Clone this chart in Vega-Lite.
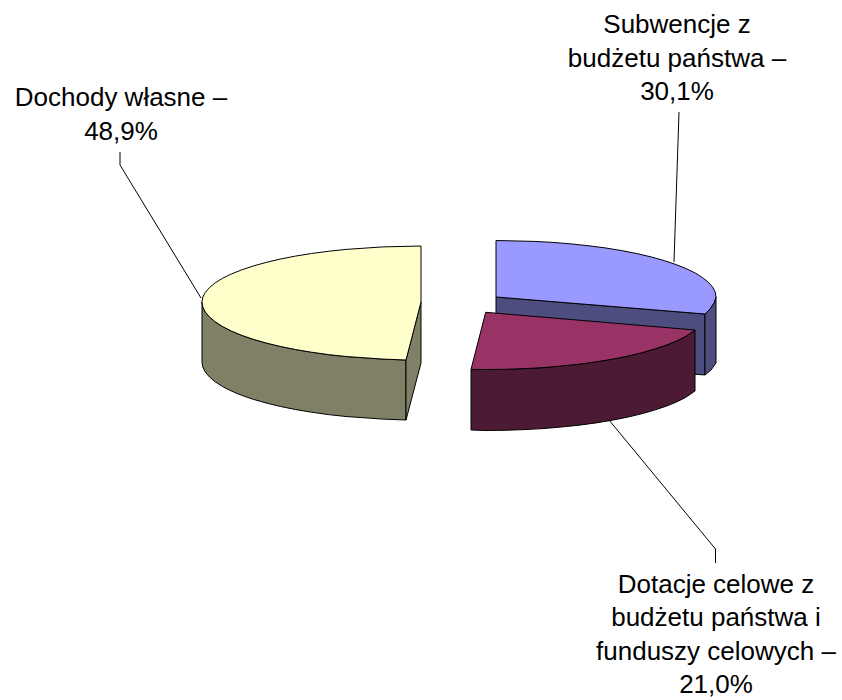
{"$schema":"https://vega.github.io/schema/vega-lite/v6.json","width":842,"height":700,"padding":0,"autosize":{"type":"fit","contains":"padding"},"background":"white","view":{"stroke":null},
"datasets":{"outline":[
{"part":"Dochody wlasne bok","i":0,"x":202,"y":302},{"part":"Dochody wlasne bok","i":1,"x":202.8,"y":307},{"part":"Dochody wlasne bok","i":2,"x":205.3,"y":312.1},{"part":"Dochody wlasne bok","i":3,"x":209.5,"y":317},{"part":"Dochody wlasne bok","i":4,"x":215.2,"y":321.8},{"part":"Dochody wlasne bok","i":5,"x":222.5,"y":326.5},{"part":"Dochody wlasne bok","i":6,"x":231.3,"y":331},{"part":"Dochody wlasne bok","i":7,"x":241.6,"y":335.3},{"part":"Dochody wlasne bok","i":8,"x":253.2,"y":339.3},{"part":"Dochody wlasne bok","i":9,"x":266.2,"y":343},{"part":"Dochody wlasne bok","i":10,"x":280.2,"y":346.4},{"part":"Dochody wlasne bok","i":11,"x":295.4,"y":349.5},{"part":"Dochody wlasne bok","i":12,"x":311.5,"y":352.2},{"part":"Dochody wlasne bok","i":13,"x":328.4,"y":354.6},{"part":"Dochody wlasne bok","i":14,"x":346.1,"y":356.5},{"part":"Dochody wlasne bok","i":15,"x":383,"y":359.1},{"part":"Dochody wlasne bok","i":16,"x":406,"y":360},{"part":"Dochody wlasne bok","i":17,"x":406,"y":420},{"part":"Dochody wlasne bok","i":18,"x":383,"y":419.1},{"part":"Dochody wlasne bok","i":19,"x":346.1,"y":416.5},{"part":"Dochody wlasne bok","i":20,"x":328.4,"y":414.6},{"part":"Dochody wlasne bok","i":21,"x":311.5,"y":412.2},{"part":"Dochody wlasne bok","i":22,"x":295.4,"y":409.5},{"part":"Dochody wlasne bok","i":23,"x":280.2,"y":406.4},{"part":"Dochody wlasne bok","i":24,"x":266.2,"y":403},{"part":"Dochody wlasne bok","i":25,"x":253.2,"y":399.3},{"part":"Dochody wlasne bok","i":26,"x":241.6,"y":395.3},{"part":"Dochody wlasne bok","i":27,"x":231.3,"y":391},{"part":"Dochody wlasne bok","i":28,"x":222.5,"y":386.5},{"part":"Dochody wlasne bok","i":29,"x":215.2,"y":381.8},{"part":"Dochody wlasne bok","i":30,"x":209.5,"y":377},{"part":"Dochody wlasne bok","i":31,"x":205.3,"y":372.1},{"part":"Dochody wlasne bok","i":32,"x":202.8,"y":367},{"part":"Dochody wlasne bok","i":33,"x":202,"y":362},{"part":"Dochody wlasne bok","i":34,"x":202,"y":302},
{"part":"Dochody wlasne ciecie","i":0,"x":421,"y":302},{"part":"Dochody wlasne ciecie","i":1,"x":406,"y":360},{"part":"Dochody wlasne ciecie","i":2,"x":406,"y":420},{"part":"Dochody wlasne ciecie","i":3,"x":421,"y":363},{"part":"Dochody wlasne ciecie","i":4,"x":421,"y":302},
{"part":"Dochody wlasne gora","i":0,"x":421,"y":302},{"part":"Dochody wlasne gora","i":1,"x":421,"y":246},{"part":"Dochody wlasne gora","i":2,"x":383,"y":246.9},{"part":"Dochody wlasne gora","i":3,"x":346.1,"y":249.4},{"part":"Dochody wlasne gora","i":4,"x":328.4,"y":251.3},{"part":"Dochody wlasne gora","i":5,"x":311.5,"y":253.5},{"part":"Dochody wlasne gora","i":6,"x":295.4,"y":256.1},{"part":"Dochody wlasne gora","i":7,"x":280.2,"y":259.1},{"part":"Dochody wlasne gora","i":8,"x":266.2,"y":262.4},{"part":"Dochody wlasne gora","i":9,"x":253.2,"y":266},{"part":"Dochody wlasne gora","i":10,"x":241.6,"y":269.9},{"part":"Dochody wlasne gora","i":11,"x":231.3,"y":274},{"part":"Dochody wlasne gora","i":12,"x":222.5,"y":278.3},{"part":"Dochody wlasne gora","i":13,"x":215.2,"y":282.8},{"part":"Dochody wlasne gora","i":14,"x":209.5,"y":287.5},{"part":"Dochody wlasne gora","i":15,"x":205.3,"y":292.3},{"part":"Dochody wlasne gora","i":16,"x":202.8,"y":297.1},{"part":"Dochody wlasne gora","i":17,"x":202,"y":302},{"part":"Dochody wlasne gora","i":18,"x":202.8,"y":307},{"part":"Dochody wlasne gora","i":19,"x":205.3,"y":312.1},{"part":"Dochody wlasne gora","i":20,"x":209.5,"y":317},{"part":"Dochody wlasne gora","i":21,"x":215.2,"y":321.8},{"part":"Dochody wlasne gora","i":22,"x":222.5,"y":326.5},{"part":"Dochody wlasne gora","i":23,"x":231.3,"y":331},{"part":"Dochody wlasne gora","i":24,"x":241.6,"y":335.3},{"part":"Dochody wlasne gora","i":25,"x":253.2,"y":339.3},{"part":"Dochody wlasne gora","i":26,"x":266.2,"y":343},{"part":"Dochody wlasne gora","i":27,"x":280.2,"y":346.4},{"part":"Dochody wlasne gora","i":28,"x":295.4,"y":349.5},{"part":"Dochody wlasne gora","i":29,"x":311.5,"y":352.2},{"part":"Dochody wlasne gora","i":30,"x":328.4,"y":354.6},{"part":"Dochody wlasne gora","i":31,"x":346.1,"y":356.5},{"part":"Dochody wlasne gora","i":32,"x":383,"y":359.1},{"part":"Dochody wlasne gora","i":33,"x":406,"y":360},{"part":"Dochody wlasne gora","i":34,"x":421,"y":302},
{"part":"Subwencje ciecie","i":0,"x":496,"y":297},{"part":"Subwencje ciecie","i":1,"x":705,"y":314},{"part":"Subwencje ciecie","i":2,"x":705,"y":375},{"part":"Subwencje ciecie","i":3,"x":496,"y":358},{"part":"Subwencje ciecie","i":4,"x":496,"y":297},
{"part":"Subwencje bok","i":0,"x":705,"y":314},{"part":"Subwencje bok","i":1,"x":710,"y":309},{"part":"Subwencje bok","i":2,"x":714,"y":303},{"part":"Subwencje bok","i":3,"x":716,"y":297},{"part":"Subwencje bok","i":4,"x":716,"y":363},{"part":"Subwencje bok","i":5,"x":711,"y":370},{"part":"Subwencje bok","i":6,"x":705,"y":375},{"part":"Subwencje bok","i":7,"x":705,"y":314},
{"part":"Subwencje gora","i":0,"x":496,"y":297},{"part":"Subwencje gora","i":1,"x":496,"y":240.5},{"part":"Subwencje gora","i":2,"x":534.2,"y":241.4},{"part":"Subwencje gora","i":3,"x":553,"y":242.4},{"part":"Subwencje gora","i":4,"x":571.2,"y":243.9},{"part":"Subwencje gora","i":5,"x":589,"y":245.8},{"part":"Subwencje gora","i":6,"x":606,"y":248},{"part":"Subwencje gora","i":7,"x":622.2,"y":250.7},{"part":"Subwencje gora","i":8,"x":637.4,"y":253.7},{"part":"Subwencje gora","i":9,"x":651.6,"y":257},{"part":"Subwencje gora","i":10,"x":664.5,"y":260.7},{"part":"Subwencje gora","i":11,"x":676.2,"y":264.6},{"part":"Subwencje gora","i":12,"x":686.5,"y":268.8},{"part":"Subwencje gora","i":13,"x":695.4,"y":273.1},{"part":"Subwencje gora","i":14,"x":702.7,"y":277.7},{"part":"Subwencje gora","i":15,"x":708.5,"y":282.4},{"part":"Subwencje gora","i":16,"x":712.7,"y":287.2},{"part":"Subwencje gora","i":17,"x":715.2,"y":292},{"part":"Subwencje gora","i":18,"x":716,"y":297},{"part":"Subwencje gora","i":19,"x":714,"y":303},{"part":"Subwencje gora","i":20,"x":710,"y":309},{"part":"Subwencje gora","i":21,"x":705,"y":314},{"part":"Subwencje gora","i":22,"x":496,"y":297},
{"part":"Dotacje bok","i":0,"x":695,"y":330},{"part":"Dotacje bok","i":1,"x":685.4,"y":336.6},{"part":"Dotacje bok","i":2,"x":676.5,"y":341},{"part":"Dotacje bok","i":3,"x":666.2,"y":345.2},{"part":"Dotacje bok","i":4,"x":654.5,"y":349.1},{"part":"Dotacje bok","i":5,"x":641.6,"y":352.8},{"part":"Dotacje bok","i":6,"x":627.4,"y":356.2},{"part":"Dotacje bok","i":7,"x":612.2,"y":359.2},{"part":"Dotacje bok","i":8,"x":596,"y":361.9},{"part":"Dotacje bok","i":9,"x":579,"y":364.2},{"part":"Dotacje bok","i":10,"x":561.2,"y":366},{"part":"Dotacje bok","i":11,"x":543,"y":367.6},{"part":"Dotacje bok","i":12,"x":524.2,"y":368.6},{"part":"Dotacje bok","i":13,"x":505.2,"y":369.3},{"part":"Dotacje bok","i":14,"x":486,"y":369.5},{"part":"Dotacje bok","i":15,"x":471,"y":369.4},{"part":"Dotacje bok","i":16,"x":471,"y":430},{"part":"Dotacje bok","i":17,"x":486,"y":430.5},{"part":"Dotacje bok","i":18,"x":505.2,"y":430.3},{"part":"Dotacje bok","i":19,"x":524.2,"y":429.6},{"part":"Dotacje bok","i":20,"x":543,"y":428.6},{"part":"Dotacje bok","i":21,"x":561.2,"y":427},{"part":"Dotacje bok","i":22,"x":579,"y":425.2},{"part":"Dotacje bok","i":23,"x":596,"y":422.9},{"part":"Dotacje bok","i":24,"x":612.2,"y":420.2},{"part":"Dotacje bok","i":25,"x":627.4,"y":417.2},{"part":"Dotacje bok","i":26,"x":641.6,"y":413.8},{"part":"Dotacje bok","i":27,"x":654.5,"y":410.1},{"part":"Dotacje bok","i":28,"x":666.2,"y":406.2},{"part":"Dotacje bok","i":29,"x":676.5,"y":402},{"part":"Dotacje bok","i":30,"x":685.4,"y":397.6},{"part":"Dotacje bok","i":31,"x":695,"y":391},{"part":"Dotacje bok","i":32,"x":695,"y":330},
{"part":"Dotacje gora","i":0,"x":485.7,"y":312.3},{"part":"Dotacje gora","i":1,"x":695,"y":330},{"part":"Dotacje gora","i":2,"x":685.4,"y":336.6},{"part":"Dotacje gora","i":3,"x":676.5,"y":341},{"part":"Dotacje gora","i":4,"x":666.2,"y":345.2},{"part":"Dotacje gora","i":5,"x":654.5,"y":349.1},{"part":"Dotacje gora","i":6,"x":641.6,"y":352.8},{"part":"Dotacje gora","i":7,"x":627.4,"y":356.2},{"part":"Dotacje gora","i":8,"x":612.2,"y":359.2},{"part":"Dotacje gora","i":9,"x":596,"y":361.9},{"part":"Dotacje gora","i":10,"x":579,"y":364.2},{"part":"Dotacje gora","i":11,"x":561.2,"y":366},{"part":"Dotacje gora","i":12,"x":543,"y":367.6},{"part":"Dotacje gora","i":13,"x":524.2,"y":368.6},{"part":"Dotacje gora","i":14,"x":505.2,"y":369.3},{"part":"Dotacje gora","i":15,"x":486,"y":369.5},{"part":"Dotacje gora","i":16,"x":471,"y":369.4},{"part":"Dotacje gora","i":17,"x":485.7,"y":312.3}
],
"leaders":[
{"label":"Dochody","i":0,"x":120,"y":152},{"label":"Dochody","i":1,"x":120,"y":165},{"label":"Dochody","i":2,"x":201,"y":298},
{"label":"Subwencje","i":0,"x":679,"y":112},{"label":"Subwencje","i":1,"x":674,"y":262},
{"label":"Dotacje","i":0,"x":715.5,"y":563},{"label":"Dotacje","i":1,"x":715.5,"y":549},{"label":"Dotacje","i":2,"x":609,"y":420}
],
"labels":[
{"t":"Subwencje z","x":677,"y":25},{"t":"budżetu państwa –","x":677,"y":58.5},{"t":"30,1%","x":677,"y":92},
{"t":"Dochody własne –","x":121,"y":98},{"t":"48,9%","x":121,"y":132},
{"t":"Dotacje celowe z","x":716,"y":585},{"t":"budżetu państwa i","x":716,"y":618},{"t":"funduszy celowych –","x":716,"y":652},{"t":"21,0%","x":716,"y":685}
]},
"layer":[
{"data":{"name":"outline"},"mark":{"type":"line","stroke":"black","strokeWidth":1,"interpolate":"linear"},
"encoding":{"x":{"field":"x","type":"quantitative","scale":{"domain":[0,842]},"axis":null},"y":{"field":"y","type":"quantitative","scale":{"domain":[700,0]},"axis":null},"order":{"field":"i"},"detail":{"field":"part"},
"fill":{"field":"part","type":"nominal","legend":null,"scale":{"domain":["Dochody wlasne bok","Dochody wlasne ciecie","Dochody wlasne gora","Subwencje ciecie","Subwencje bok","Subwencje gora","Dotacje bok","Dotacje gora"],"range":["#808066","#808066","#FFFFCC","#4D4D80","#4D4D80","#9999FF","#4D1A33","#993366"]}}}},
{"data":{"name":"leaders"},"mark":{"type":"line","stroke":"black","strokeWidth":1},
"encoding":{"x":{"field":"x","type":"quantitative","scale":{"domain":[0,842]},"axis":null},"y":{"field":"y","type":"quantitative","scale":{"domain":[700,0]},"axis":null},"order":{"field":"i"},"detail":{"field":"label"}}},
{"data":{"name":"labels"},"mark":{"type":"text","font":"Liberation Sans","fontSize":26,"align":"center","baseline":"middle","color":"black"},
"encoding":{"x":{"field":"x","type":"quantitative","scale":{"domain":[0,842]},"axis":null},"y":{"field":"y","type":"quantitative","scale":{"domain":[700,0]},"axis":null},"text":{"field":"t"}}}
]}
